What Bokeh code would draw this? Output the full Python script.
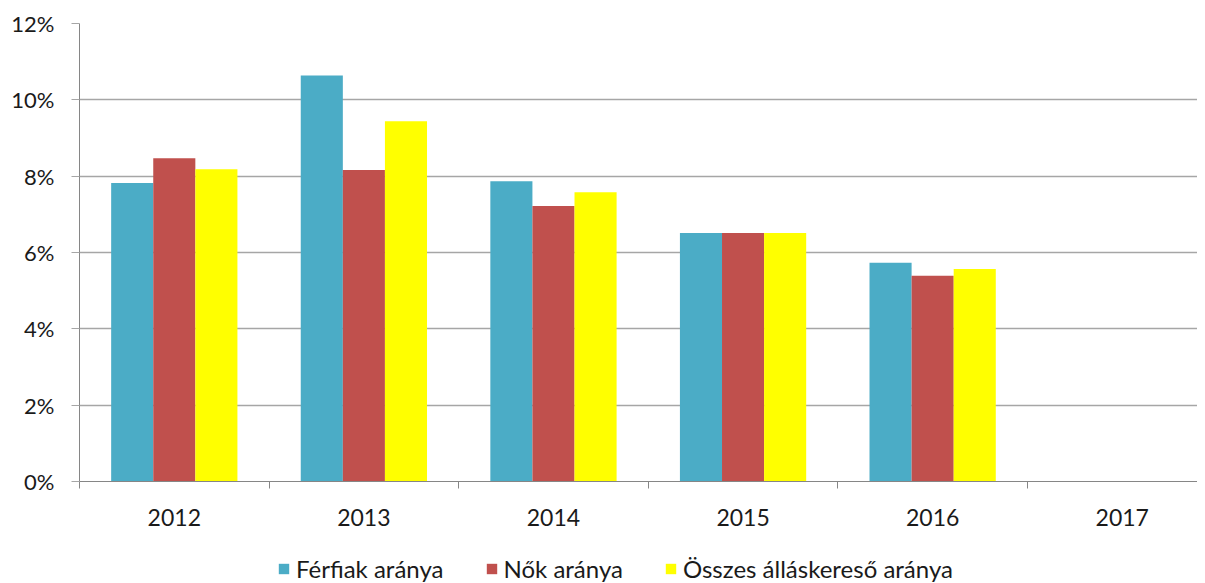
from bokeh.plotting import figure
from bokeh.layouts import column
from bokeh.models import (ColumnDataSource, Range1d, FixedTicker, PrintfTickFormatter,
                          Legend, LegendItem)
from bokeh.embed import file_html
from bokeh.resources import INLINE

years = ["2012", "2013", "2014", "2015", "2016", "2017"]
ferfiak = [7.82, 10.64, 7.87, 6.51, 5.73, None]
nok = [8.47, 8.16, 7.22, 6.51, 5.39, None]
osszes = [8.18, 9.44, 7.58, 6.51, 5.57, None]
series_names = ["Férfiak aránya", "Nők aránya", "Összes álláskereső aránya"]
colors = ["#4BACC6", "#C0504D", "#FFFF00"]
y_ticks = [0, 2, 4, 6, 8, 10, 12]

FONT = "Lato"
n = len(years)
centers = [i + 0.5 for i in range(n)]

p = figure(width=1197, height=541, output_backend="svg", toolbar_location=None,
           x_range=Range1d(0, 5.897), y_range=Range1d(0, 12),
           min_border_left=79, min_border_right=0, min_border_top=23, min_border_bottom=60)
p.outline_line_color = None
p.background_fill_color = "white"
p.border_fill_color = "white"

bw = 0.222
offsets = [-bw, 0, bw]
for vals, off, col in zip([ferfiak, nok, osszes], offsets, colors):
    xs = [c + off for c, v in zip(centers, vals) if v is not None]
    ys = [v for v in vals if v is not None]
    src = ColumnDataSource(dict(x=xs, top=ys))
    p.vbar(x="x", top="top", bottom=0, width=bw, source=src,
           fill_color=col, line_color=None)

# x axis
p.xaxis.ticker = FixedTicker(ticks=centers, minor_ticks=list(range(n + 1)))
p.xaxis.major_label_overrides = {c: y for c, y in zip(centers, years)}
p.xaxis.major_tick_line_color = None
p.xaxis.minor_tick_in = 0
p.xaxis.minor_tick_out = 7
p.xaxis.minor_tick_line_color = "#868686"
p.xaxis.axis_line_color = "#868686"
p.xaxis.major_label_standoff = 20
p.xaxis.major_label_text_font = FONT
p.xaxis.major_label_text_font_size = "23px"
p.xaxis.major_label_text_color = "#1a1a1a"
p.xgrid.grid_line_color = None

# y axis
p.yaxis.ticker = FixedTicker(ticks=y_ticks)
p.yaxis.formatter = PrintfTickFormatter(format="%d%%")
p.yaxis.major_tick_in = 0
p.yaxis.major_tick_out = 8
p.yaxis.major_tick_line_color = "#A6A6A6"
p.yaxis.minor_tick_line_color = None
p.yaxis.axis_line_color = "#868686"
p.yaxis.major_label_standoff = 17
p.yaxis.major_label_text_font = FONT
p.yaxis.major_label_text_font_size = "22px"
p.yaxis.major_label_text_color = "#1a1a1a"
p.ygrid.grid_line_color = "#A6A6A6"
p.ygrid.grid_line_width = 1.3

# legend strip below the chart (its frame is aligned with the chart's frame)
lg = figure(width=1197, height=42, output_backend="svg", toolbar_location=None,
            x_range=Range1d(0, 1), y_range=Range1d(0, 1),
            x_axis_location=None, y_axis_location=None,
            min_border_left=0, min_border_right=0, min_border_top=0, min_border_bottom=0)
lg.grid.visible = False
lg.outline_line_color = None
lg.border_fill_color = "white"
lg_renderers = []
for col in colors:
    # swatch renderer kept outside the visible range; used only for the legend glyph
    r = lg.quad(left=[2], right=[3], bottom=[2], top=[3], fill_color=col, line_color=None)
    lg_renderers.append(r)

legend = Legend(items=[LegendItem(label=nm, renderers=[r]) for nm, r in zip(series_names, lg_renderers)],
                orientation="horizontal", location=(198, 0),
                glyph_width=13, glyph_height=13, label_standoff=6, spacing=41,
                label_text_font=FONT, label_text_font_size="24px", label_text_color="#1a1a1a",
                border_line_color=None, background_fill_alpha=0, padding=0, margin=0)
lg.add_layout(legend, "center")

layout = column(p, lg, spacing=0)
open("out.html", "w").write(file_html(layout, INLINE))
